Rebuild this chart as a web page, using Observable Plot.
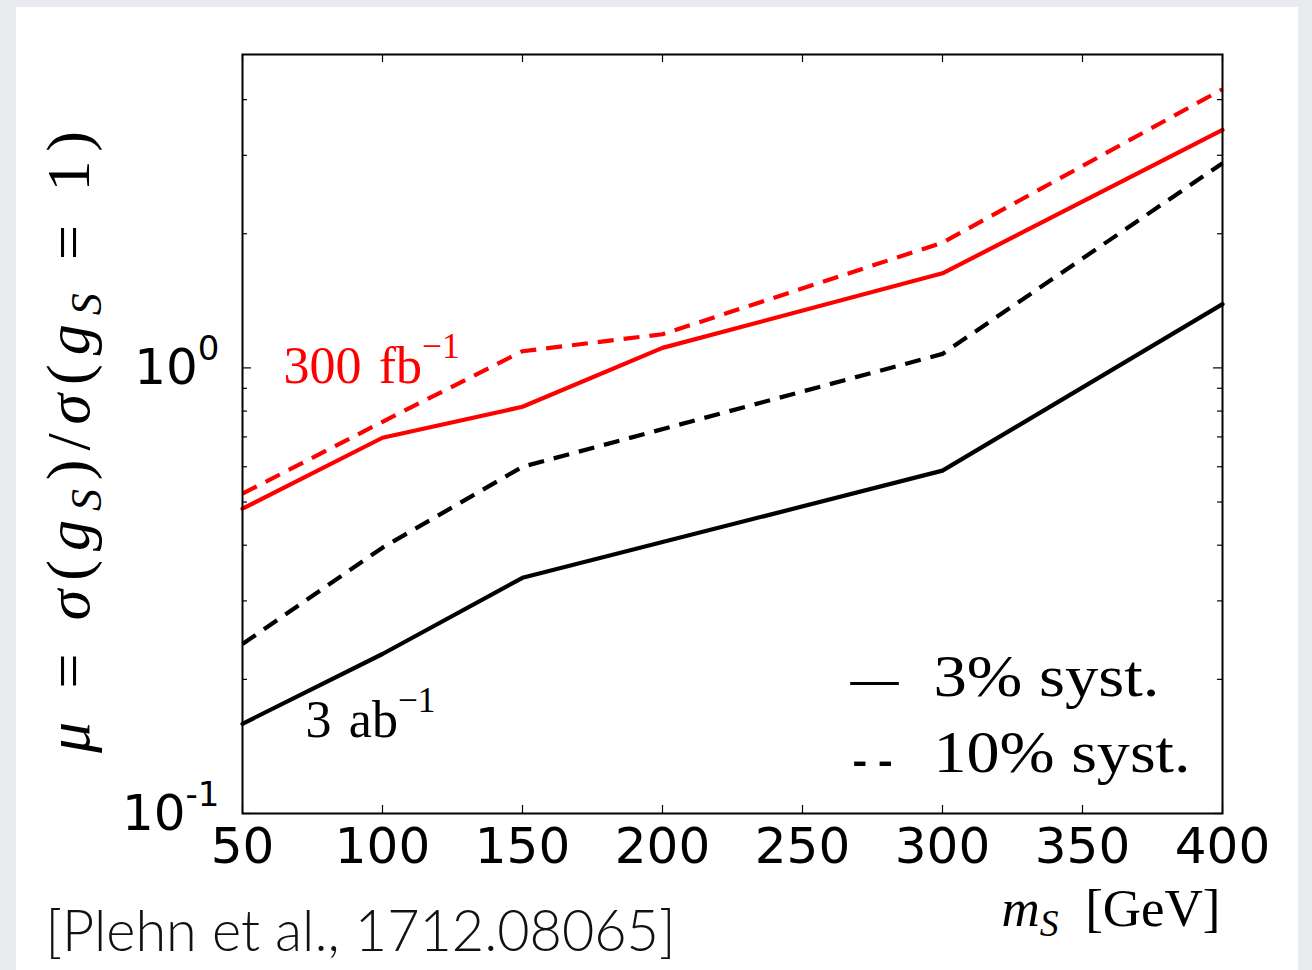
<!DOCTYPE html>
<html>
<head>
<meta charset="utf-8">
<script src="https://cdn.jsdelivr.net/npm/d3@7"></script>
<script src="https://cdn.jsdelivr.net/npm/@observablehq/plot@0.6"></script>
<style>
  html, body { margin: 0; padding: 0; width: 1312px; height: 970px; overflow: hidden; background: #e9ebef; }
  #card { position: absolute; left: 16px; top: 7px; width: 1282px; height: 970px; background: #ffffff; }
  #chart { position: absolute; left: 0; top: 0; }
  #chart svg text { white-space: pre; }
</style>
</head>
<body>
<div id="card"></div>
<div id="chart"></div>
<script>
// Signal strength needed for discovery of a scalar S, vs its mass.
// Red: 300 fb^-1, black: 3 ab^-1; solid = 3% systematics, dashed = 10%.
const massRed = [50, 100, 150, 200, 300, 400];
const mu300Syst3 = [0.483, 0.697, 0.818, 1.109, 1.63, 3.42];
const mu300Syst10 = [0.522, 0.757, 1.09, 1.19, 1.91, 4.22];

const massBlack = [50, 100, 150, 300, 400];
const mu3000Syst3 = [0.159, 0.228, 0.338, 0.588, 1.39];
const mu3000Syst10 = [0.240, 0.395, 0.600, 1.075, 2.88];

const xTicks = [50, 100, 150, 200, 250, 300, 350, 400];
const yMajor = [0.1, 1];
const yMajorLabels = ["10^{-1}", "10^{0}"];
const yMinor = [0.2, 0.3, 0.4, 0.5, 0.6, 0.7, 0.8, 0.9, 2, 3, 4];

// Light markup: *x* italic, ^{x} superscript, _{x} subscript
const lumiLabels = ["300\u2004fb^{−1}", "3\u2004ab^{−1}"];
const legendLabels = ["3% syst.", "10% syst."];
const legendKeys = ["—", "- -"];
const xLabel = "*m*_{*S*}\u2002[GeV]";
const yLabel = "*μ* = *σ*(*g*_{*S*})/*σ*(*g*_{*S*} = 1)";
const credit = "[Plehn et al., 1712.08065]";

const rows = (xs, ys) => xs.map((m, i) => ({m, mu: ys[i]}));

const W = 1312, H = 970;
const M = {top: 54, right: 90, bottom: 157, left: 242};
const innerW = W - M.left - M.right;
const innerH = H - M.top - M.bottom;

const serif = "Liberation Serif";
const sans = "DejaVu Sans";

// text marks, in drawing order, with the width each is set to (if any)
const textMarks = [
  {name: "xticks", mark: Plot.text(xTicks, {x: d => d, text: d => String(d), frameAnchor: "bottom", lineAnchor: "top", dy: 14,
      fontSize: 50, fontFamily: sans, fill: "black"})},
  {name: "yticks", mark: Plot.text(yMajor, {y: d => d, text: (d, i) => yMajorLabels[i], frameAnchor: "left", textAnchor: "end",
      lineAnchor: "bottom", dx: -23, dy: 16, fontSize: 50, fontFamily: sans, fill: "black"})},
  {name: "lumi300", mark: Plot.text([lumiLabels[0]], {x: 64.6, y: 0.926, text: d => d, textAnchor: "start", lineAnchor: "bottom",
      fontSize: 52, fontFamily: serif, fill: "#ff0000"})},
  {name: "lumi3000", mark: Plot.text([lumiLabels[1]], {x: 72.5, y: 0.1485, text: d => d, textAnchor: "start", lineAnchor: "bottom",
      fontSize: 52, fontFamily: serif, fill: "black"})},
  {name: "keySolid", length: 48, adjust: "spacingAndGlyphs", mark: Plot.text([legendKeys[0]], {frameAnchor: "bottom-right", text: d => d,
      textAnchor: "start", lineAnchor: "bottom", dx: -372, dy: -117, fontSize: 59, fontFamily: serif, fill: "black"})},
  {name: "keyDashed", length: 40, adjust: "spacingAndGlyphs", mark: Plot.text([legendKeys[1]], {frameAnchor: "bottom-right", text: d => d,
      textAnchor: "start", lineAnchor: "bottom", dx: -370, dy: -36, fontSize: 59, fontFamily: serif, fill: "black"})},
  {name: "key3", length: 226, adjust: "spacingAndGlyphs", mark: Plot.text([legendLabels[0]], {frameAnchor: "bottom-right", text: d => d,
      textAnchor: "start", lineAnchor: "bottom", dx: -289, dy: -118, fontSize: 59, fontFamily: serif, fill: "black"})},
  {name: "key10", length: 257, adjust: "spacingAndGlyphs", mark: Plot.text([legendLabels[1]], {frameAnchor: "bottom-right", text: d => d,
      textAnchor: "start", lineAnchor: "bottom", dx: -289, dy: -42, fontSize: 59, fontFamily: serif, fill: "black"})},
  {name: "xlabel", mark: Plot.text([xLabel], {frameAnchor: "bottom-right", text: d => d, textAnchor: "end", lineAnchor: "bottom",
      dx: -2, dy: 112, fontSize: 53, fontFamily: serif, fill: "black"})},
  {name: "ylabel", length: 622, adjust: "spacing", mark: Plot.text([yLabel], {frameAnchor: "left", text: d => d, rotate: -90,
      textAnchor: "middle", lineAnchor: "bottom", dx: -154, dy: 8, fontSize: 62, fontFamily: serif, fill: "black"})},
  {name: "credit", length: 630, adjust: "spacingAndGlyphs", mark: Plot.text([credit], {frameAnchor: "bottom-left", text: d => d,
      textAnchor: "start", lineAnchor: "bottom", dx: -197, dy: 137, fontSize: 58, fontFamily: "Lato", fontWeight: 300, fill: "#111"})}
];

const svg = Plot.plot({
  width: W,
  height: H,
  marginTop: M.top,
  marginRight: M.right,
  marginBottom: M.bottom,
  marginLeft: M.left,
  style: {background: "transparent", overflow: "visible", fontFamily: serif},
  x: {domain: [50, 400], axis: null},
  y: {type: "log", domain: [0.1, 5.05], axis: null},
  marks: [
    // data curves
    Plot.line(rows(massBlack, mu3000Syst3), {x: "m", y: "mu", stroke: "black", strokeWidth: 4.2, strokeLinejoin: "round"}),
    Plot.line(rows(massBlack, mu3000Syst10), {x: "m", y: "mu", stroke: "black", strokeWidth: 4.2, strokeDasharray: "16,10", strokeLinecap: "butt"}),
    Plot.line(rows(massRed, mu300Syst3), {x: "m", y: "mu", stroke: "#ff0000", strokeWidth: 4.2, strokeLinejoin: "round"}),
    Plot.line(rows(massRed, mu300Syst10), {x: "m", y: "mu", stroke: "#ff0000", strokeWidth: 4.2, strokeDasharray: "16,10", strokeLinecap: "butt"}),

    // inward ticks on all four sides
    Plot.tickX(xTicks, {x: d => d, insetTop: innerH - 8, stroke: "black", strokeWidth: 1.2}),
    Plot.tickX(xTicks, {x: d => d, insetBottom: innerH - 8, stroke: "black", strokeWidth: 1.2}),
    Plot.tickY(yMajor, {y: d => d, insetRight: innerW - 9, stroke: "black", strokeWidth: 1.2}),
    Plot.tickY(yMajor, {y: d => d, insetLeft: innerW - 9, stroke: "black", strokeWidth: 1.2}),
    Plot.tickY(yMinor, {y: d => d, insetRight: innerW - 5, stroke: "black", strokeWidth: 1.2}),
    Plot.tickY(yMinor, {y: d => d, insetLeft: innerW - 5, stroke: "black", strokeWidth: 1.2}),

    Plot.frame({stroke: "black", strokeWidth: 2}),

    ...textMarks.map(d => d.mark)
  ]
});

document.getElementById("chart").appendChild(svg);

// Split a markup string into runs of {t, italic, mode}.
function parseMarkup(s) {
  const runs = [];
  let italic = false, mode = null, buf = "";
  const flush = () => { if (buf) runs.push({t: buf, italic, mode}); buf = ""; };
  for (let i = 0; i < s.length; i++) {
    const c = s[i];
    if (c === "*") { flush(); italic = !italic; }
    else if ((c === "^" || c === "_") && s[i + 1] === "{") { flush(); mode = c === "^" ? "sup" : "sub"; i++; }
    else if (c === "}" && mode) { flush(); mode = null; }
    else buf += c;
  }
  flush();
  return runs;
}

// Typeset every text that carries markup.
d3.select(svg).selectAll("text").each(function () {
  const src = this.textContent;
  if (!/[*]|\^\{|_\{/.test(src)) return;
  const base = parseFloat(getComputedStyle(this).fontSize);
  const el = d3.select(this);
  el.text(null);
  let cur = 0;
  for (const r of parseMarkup(src)) {
    const ts = el.append("tspan").text(r.t);
    if (r.italic) ts.attr("font-style", "italic");
    let shift = 0;
    if (r.mode === "sup") { ts.attr("font-size", base * 0.68); shift = -0.48 * base; }
    if (r.mode === "sub") { ts.attr("font-size", base * 0.71); shift = 0.2 * base; }
    if (shift !== cur) { ts.attr("dy", shift - cur); cur = shift; }
  }
});

// Set the widths of a few labels.
const groups = d3.select(svg).selectAll("g[aria-label='text']").nodes();
textMarks.forEach((d, i) => {
  if (!d.length || !groups[i]) return;
  d3.select(groups[i]).selectAll("text")
    .attr("textLength", d.length)
    .attr("lengthAdjust", d.adjust || "spacing");
});
</script>
</body>
</html>
